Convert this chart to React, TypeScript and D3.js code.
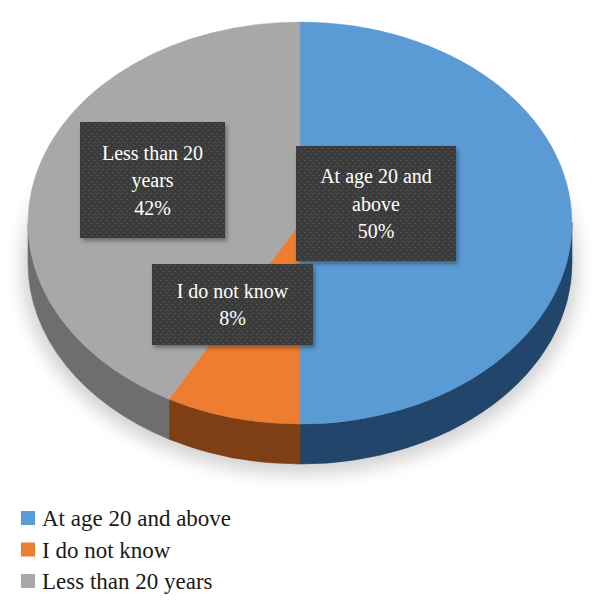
import React from "react";
import * as d3 from "d3";

const categories = ["At age 20 and above", "I do not know", "Less than 20 years"];
const values = [50, 8, 42];
const labelLines = [
  ["At age 20 and", "above", "50%"],
  ["I do not know", "8%"],
  ["Less than 20", "years", "42%"],
];
const topColors = ["#5b9bd5", "#ed7d31", "#a8a8a8"];
const sideColors = ["#22466b", "#7f3f14", "#6e6e6e"];

// label boxes (layout only)
const boxes = [
  { x: 296, y: 146, w: 160, h: 115 },
  { x: 152, y: 264, w: 161, h: 81 },
  { x: 80, y: 122, w: 145, h: 116 },
];

const FONT = "Liberation Serif";

export default function App() {
  const width = 600;
  const height = 615;
  const cx = 300, cy = 223, rx = 272, ry = 201, depth = 40;

  const arcs = d3.pie<number>().sort(null).value(d => d)(values);
  const arc = d3.arc<d3.PieArcDatum<number>>().innerRadius(0).outerRadius(rx);
  const pt = (a: number) => [cx + rx * Math.sin(a), cy - ry * Math.cos(a)];

  // side walls, front half only
  const sides = arcs.map((a, i) => {
    const a0 = Math.max(a.startAngle, Math.PI / 2);
    const a1 = Math.min(a.endAngle, (3 * Math.PI) / 2);
    if (a1 <= a0) return null;
    const [x0, y0] = pt(a0);
    const [x1, y1] = pt(a1);
    const large = a1 - a0 > Math.PI ? 1 : 0;
    const d = `M${x0},${y0} A${rx},${ry} 0 ${large} 1 ${x1},${y1} L${x1},${y1 + depth} A${rx},${ry} 0 ${large} 0 ${x0},${y0 + depth} Z`;
    return <path key={i} d={d} fill={sideColors[i]} stroke={sideColors[i]} strokeWidth={0.6} />;
  });

  return (
    <svg
      width={width}
      height={height}
      style={{ position: "absolute", left: 0, top: 0, background: "#fff" }}
    >
      <defs>
        <filter id="blur" x="-20%" y="-20%" width="140%" height="140%">
          <feGaussianBlur stdDeviation={9} />
        </filter>
        <pattern id="dots" width={6} height={6} patternUnits="userSpaceOnUse">
          <rect width={6} height={6} fill="#3a3a3a" />
          <circle cx={1.5} cy={1.5} r={0.8} fill="#595959" />
          <circle cx={4.5} cy={4.5} r={0.8} fill="#595959" />
        </pattern>
        <filter id="boxshadow">
          <feDropShadow dx={2} dy={3} stdDeviation={2} floodColor="#000" floodOpacity={0.35} />
        </filter>
      </defs>

      {/* soft shadow under the pie */}
      <ellipse cx={cx} cy={cy + depth + 6} rx={rx + 6} ry={ry + 4} fill="#000" opacity={0.18} filter="url(#blur)" />

      {sides}

      <g transform={`translate(${cx},${cy}) scale(1,${ry / rx})`}>
        {arcs.map((a, i) => (
          <path key={i} d={arc(a) || ""} fill={topColors[i]} stroke={topColors[i]} strokeWidth={0.5} />
        ))}
      </g>

      {boxes.map((b, i) => {
        const lines = labelLines[i];
        const lh = 27.5;
        const mid = b.y + b.h / 2;
        return (
          <g key={i}>
            <rect x={b.x} y={b.y} width={b.w} height={b.h} fill="url(#dots)" filter="url(#boxshadow)" />
            {lines.map((t, j) => (
              <text
                key={j}
                x={b.x + b.w / 2}
                y={mid + (j - (lines.length - 1) / 2) * lh}
                dy="0.35em"
                textAnchor="middle"
                fill="#ffffff"
                fontFamily={FONT}
                fontSize={20}
              >
                {t}
              </text>
            ))}
          </g>
        );
      })}

      {categories.map((c, i) => {
        const y = 518 + i * 31.5;
        return (
          <g key={c}>
            <rect x={21} y={y - 7} width={14} height={14} fill={topColors[i]} />
            <text x={42} y={y} dy="0.35em" fontFamily={FONT} fontSize={23} fill="#1a1a1a">
              {c}
            </text>
          </g>
        );
      })}
    </svg>
  );
}
